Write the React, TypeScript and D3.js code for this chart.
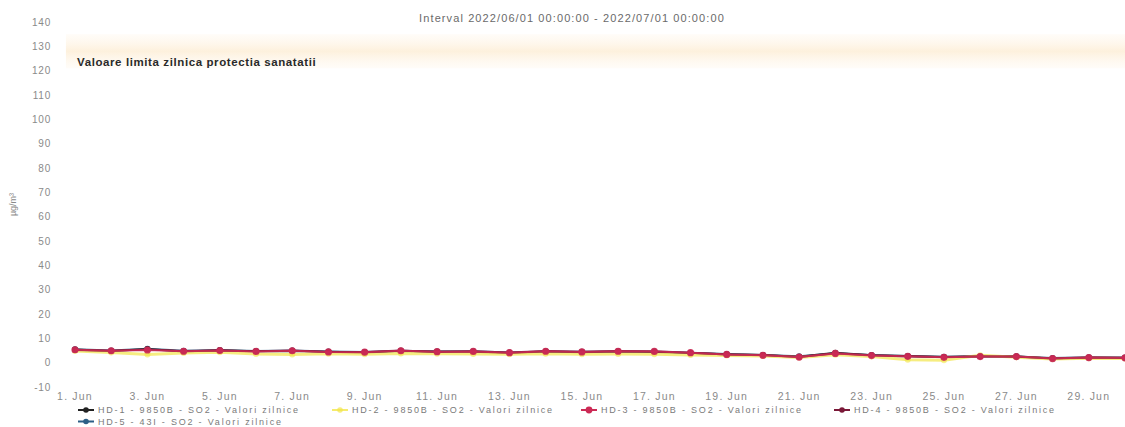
import React from "react";
import * as d3 from "d3";

const days: number[] = d3.range(1, 31);
const tickDays: number[] = [1, 3, 5, 7, 9, 11, 13, 15, 17, 19, 21, 23, 25, 27, 29];
const yTicks: number[] = d3.range(-10, 141, 10);

const hd1: number[] = [5.4, 4.8, 5.6, 4.6, 5.1, 4.7, 4.8, 4.5, 4.2, 4.8, 4.6, 4.5, 4.0, 4.6, 4.3, 4.6, 4.4, 4.0, 3.5, 3.1, 2.4, 4.1, 3.0, 2.7, 2.3, 2.6, 2.6, 1.6, 2.0, 2.0];
const hd2: number[] = [4.8, 4.2, 3.4, 4.0, 4.3, 3.6, 3.4, 3.7, 3.5, 3.8, 3.7, 3.6, 3.5, 3.7, 3.5, 3.6, 3.5, 3.2, 2.9, 2.7, 2.1, 3.3, 2.5, 1.2, 1.0, 3.0, 2.2, 1.5, 1.8, 1.7];
const hd3: number[] = [5.3, 4.9, 5.2, 4.7, 5.0, 4.6, 4.9, 4.4, 4.3, 4.9, 4.5, 4.6, 4.1, 4.7, 4.4, 4.7, 4.6, 4.1, 3.4, 3.0, 2.3, 3.8, 2.9, 2.6, 2.2, 2.5, 2.5, 1.7, 2.1, 2.0];
const hd4: number[] = [5.2, 4.9, 5.4, 4.8, 5.0, 4.7, 5.0, 4.4, 4.4, 5.0, 4.4, 4.7, 4.2, 4.8, 4.5, 4.8, 4.7, 4.1, 3.4, 3.1, 2.3, 3.9, 3.0, 2.5, 2.3, 2.5, 2.4, 1.8, 2.1, 1.9];
const hd5: number[] = [5.5, 5.0, 5.7, 4.9, 5.2, 4.8, 5.0, 4.6, 4.4, 4.9, 4.6, 4.7, 4.2, 4.6, 4.5, 4.6, 4.5, 4.1, 3.6, 3.2, 2.6, 3.9, 3.1, 2.7, 2.4, 2.6, 2.5, 1.9, 2.2, 2.1];

const limitValue = 128;
const titleText = "Interval 2022/06/01 00:00:00 - 2022/07/01 00:00:00";
const limitLabel = "Valoare limita zilnica protectia sanatatii";
const yTitle = "µg/m³";

const seriesNames: string[] = [
  "HD-1 - 9850B - SO2 - Valori zilnice",
  "HD-2 - 9850B - SO2 - Valori zilnice",
  "HD-3 - 9850B - SO2 - Valori zilnice",
  "HD-4 - 9850B - SO2 - Valori zilnice",
  "HD-5 - 43I - SO2 - Valori zilnice",
];
const seriesValues: number[][] = [hd1, hd2, hd3, hd4, hd5];
const seriesColors: string[] = ["#222222", "#f2e64a", "#cc2a55", "#7a1838", "#2c5f86"];
const drawOrder: number[] = [4, 0, 1, 3, 2];

const W = 1125;
const H = 427;

export default function App() {
  const x = d3.scaleLinear().domain([1, 30]).range([75, 1125]);
  const y = d3.scaleLinear().domain([-10, 140]).range([387, 22]);
  const line = d3
    .line<number>()
    .x((_, i) => x(days[i]))
    .y((v) => y(v));

  const legendPos = [
    { x: 78, y: 413 },
    { x: 332, y: 413 },
    { x: 581, y: 413 },
    { x: 834, y: 413 },
    { x: 78, y: 424.5 },
  ];

  const font = "Liberation Sans, Arial, sans-serif";

  return (
    <svg
      width={W}
      height={H}
      style={{ position: "absolute", left: 0, top: 0, background: "#fff" }}
      fontFamily={font}
    >
      <defs>
        <linearGradient id="band" x1="0" x2="0" y1="0" y2="1">
          <stop offset="0" stopColor="#fff8ee" stopOpacity={0.4} />
          <stop offset="0.5" stopColor="#fdefd9" stopOpacity={0.9} />
          <stop offset="1" stopColor="#fff8ee" stopOpacity={0.4} />
        </linearGradient>
      </defs>
      <rect width={W} height={H} fill="#ffffff" />
      {/* limit band */}
      <rect
        x={x(0.75)}
        y={y(limitValue + 7)}
        width={W - x(0.75)}
        height={y(limitValue - 7) - y(limitValue + 7)}
        fill="url(#band)"
      />
      <text x={572} y={22} textAnchor="middle" fontSize={11} letterSpacing={1.1} fill="#6a6a6a">
        {titleText}
      </text>
      <text x={77} y={66} fontSize={11.5} fontWeight="bold" letterSpacing={0.6} fill="#2a2a2a">
        {limitLabel}
      </text>
      {/* y axis ticks */}
      {yTicks.map((t) => (
        <text key={t} x={51} y={y(t) + 3.5} textAnchor="end" fontSize={10} letterSpacing={0.8} fill="#8a8a8a">
          {t}
        </text>
      ))}
      <text
        transform={`translate(16,${y(65)}) rotate(-90)`}
        textAnchor="middle"
        fontSize={9}
        fill="#8a8a8a"
      >
        {yTitle}
      </text>
      {/* x axis ticks */}
      {tickDays.map((d) => (
        <text key={d} x={x(d)} y={400} textAnchor="middle" fontSize={10.5} letterSpacing={1.2} fill="#8a8a8a">
          {`${d}. Jun`}
        </text>
      ))}
      {/* series */}
      {drawOrder.map((si) => (
        <g key={si}>
          <path
            d={line(seriesValues[si]) || ""}
            fill="none"
            stroke={seriesColors[si]}
            strokeWidth={si === 1 ? 3 : 2}
            strokeOpacity={si === 1 ? 0.7 : 0.85}
          />
          {seriesValues[si].map((v, i) => (
            <circle
              key={i}
              cx={x(days[i])}
              cy={y(v)}
              r={si === 2 ? 3.6 : 3}
              fill={seriesColors[si]}
              fillOpacity={si === 1 ? 0.6 : 0.9}
            />
          ))}
        </g>
      ))}
      {/* legend */}
      {seriesNames.map((name, i) => (
        <g key={name} transform={`translate(${legendPos[i].x},${legendPos[i].y})`}>
          <line x1={0} x2={16} y1={-3} y2={-3} stroke={seriesColors[i]} strokeWidth={2} strokeOpacity={i === 1 ? 0.8 : 1} />
          <circle cx={8} cy={-3} r={i === 2 ? 3.4 : 2.8} fill={seriesColors[i]} fillOpacity={i === 1 ? 0.7 : 1} />
          <text x={20} y={0} fontSize={9} letterSpacing={1.8} fill="#7a7a7a">
            {name}
          </text>
        </g>
      ))}
    </svg>
  );
}
